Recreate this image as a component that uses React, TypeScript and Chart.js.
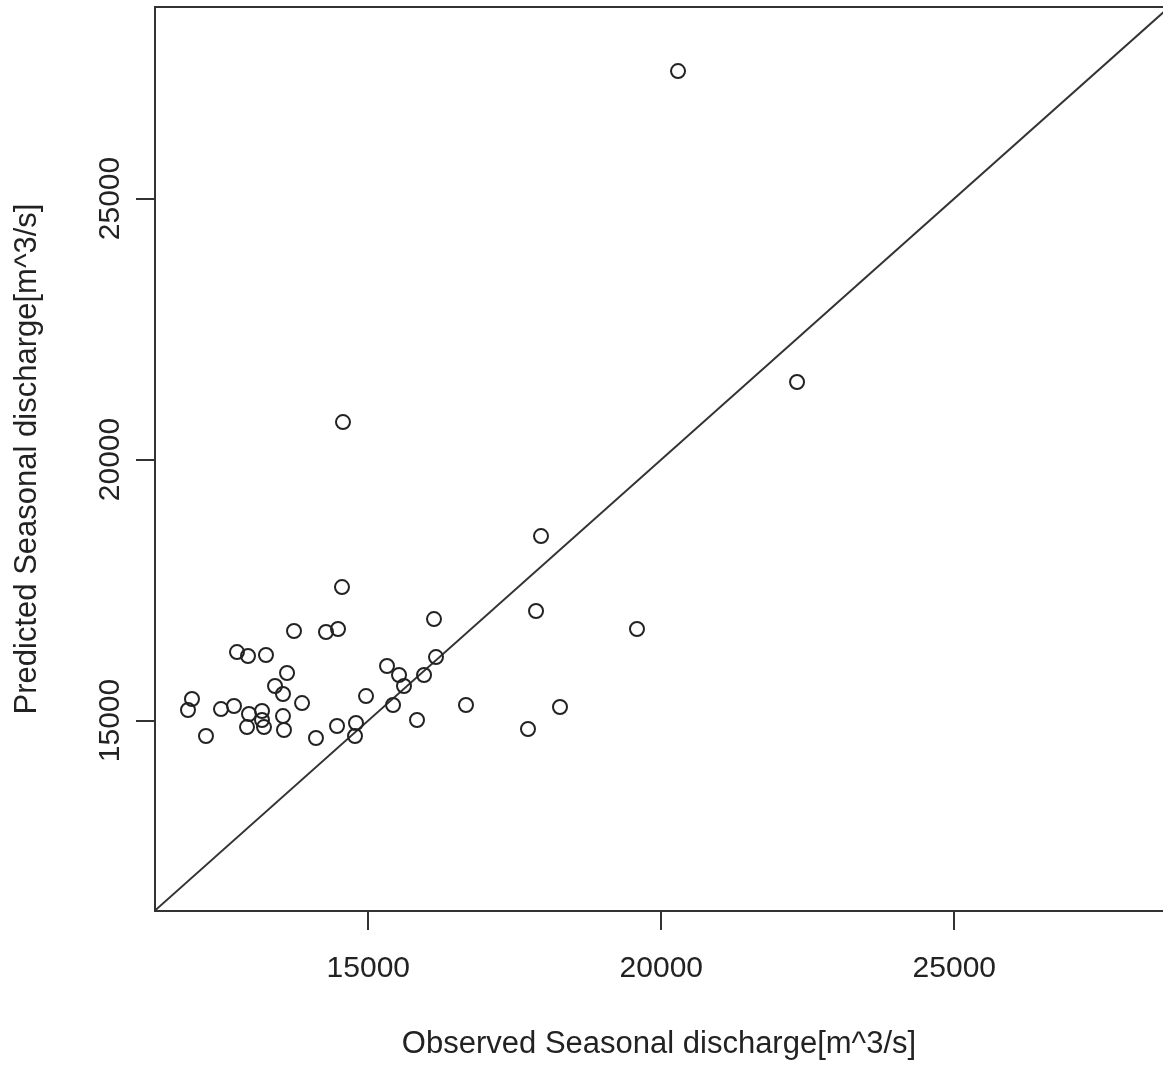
import React, { useEffect, useRef } from "react";
import { Chart, registerables } from "chart.js";

Chart.register(...registerables);

// Observed seasonal discharge (x) and predicted seasonal discharge (y), m^3/s
const observed = [
  20285, 22316, 14568, 17947, 14551, 17862, 16121, 19585, 13732, 14278,
  14483, 12759, 12947, 13254, 16155, 15319, 13613, 15524, 15951, 13408,
  15609, 13544, 14961, 11991, 11923, 13869, 12486, 12708, 15422, 16667,
  18271, 12964, 13186, 13186, 13544, 15831, 14790, 12930, 13220, 14466,
  13561, 17725, 12230, 14107, 14773,
];
const predicted = [
  27442, 21485, 20718, 18534, 17557, 17098, 16944, 16753, 16715, 16696,
  16753, 16312, 16236, 16255, 16216, 16044, 15910, 15872, 15872, 15661,
  15661, 15508, 15469, 15412, 15201, 15335, 15220, 15278, 15297, 15297,
  15259, 15125, 15182, 15010, 15086, 15010, 14952, 14875, 14875, 14895,
  14818, 14837, 14703, 14665, 14703,
];
// 1:1 reference line
const lineX = [10000, 30000];
const lineY = [10000, 30000];

const xTicks = [15000, 20000, 25000];
const yTicks = [15000, 20000, 25000];
const xLimits = [11360, 28561];
const yLimits = [11351, 28669];
const xTitle = "Observed Seasonal discharge[m^3/s]";
const yTitle = "Predicted Seasonal discharge[m^3/s]";

const FONT = "'Liberation Sans', Arial, Helvetica, sans-serif";
const INK = "#222";
const LINE = "#333";

// top edge of the plot box (the right edge lies outside the picture)
const boxPlugin = {
  id: "plotBox",
  afterDatasetsDraw(chart: any) {
    const { ctx, chartArea } = chart;
    const { left, top, right } = chartArea;
    ctx.save();
    ctx.strokeStyle = LINE;
    ctx.lineWidth = 2;
    ctx.beginPath();
    ctx.moveTo(left, top);
    ctx.lineTo(right + 5, top);
    ctx.stroke();
    ctx.restore();
  },
};

export default function App() {
  const ref = useRef<HTMLCanvasElement | null>(null);

  useEffect(() => {
    document.body.style.margin = "0";
    const canvas = ref.current;
    if (!canvas) return;

    const chart = new Chart(canvas, {
      type: "scatter",
      data: {
        datasets: [
          {
            label: "points",
            data: observed.map((x, i) => ({ x, y: predicted[i] })),
            pointRadius: 7,
            pointHoverRadius: 7,
            pointBorderWidth: 2,
            pointBorderColor: INK,
            pointBackgroundColor: "rgba(0,0,0,0)",
            showLine: false,
          },
          {
            label: "1:1",
            data: lineX.map((x, i) => ({ x, y: lineY[i] })),
            showLine: true,
            pointRadius: 0,
            borderColor: LINE,
            borderWidth: 1.9,
            fill: false,
          },
        ],
      },
      options: {
        animation: false,
        responsive: false,
        maintainAspectRatio: false,
        devicePixelRatio: 1,
        layout: { autoPadding: false, padding: { top: 7, right: 0, left: 0, bottom: 0 } },
        plugins: {
          legend: { display: false },
          tooltip: { enabled: false },
        },
        scales: {
          x: {
            type: "linear",
            min: xLimits[0],
            max: xLimits[1],
            afterBuildTicks: (s: any) => {
              s.ticks = xTicks.map((v) => ({ value: v }));
            },
            afterFit: (s: any) => {
              s.height = 157;
            },
            grid: {
              drawOnChartArea: false,
              drawTicks: true,
              tickLength: 19,
              color: LINE,
              lineWidth: 2,
            },
            border: { display: true, color: LINE, width: 2 },
            ticks: {
              font: { family: FONT, size: 30 },
              color: INK,
              padding: 21,
              maxRotation: 0,
              autoSkip: false,
              callback: (v: any) => String(v),
            },
            title: {
              display: true,
              text: xTitle,
              font: { family: FONT, size: 31 },
              color: INK,
              padding: { top: 0, bottom: 5 },
            },
          },
          y: {
            type: "linear",
            min: yLimits[0],
            max: yLimits[1],
            afterBuildTicks: (s: any) => {
              s.ticks = yTicks.map((v) => ({ value: v }));
            },
            afterFit: (s: any) => {
              s.width = 155;
            },
            grid: {
              drawOnChartArea: false,
              drawTicks: true,
              tickLength: 19,
              color: LINE,
              lineWidth: 2,
            },
            border: { display: true, color: LINE, width: 2 },
            ticks: {
              font: { family: FONT, size: 30 },
              color: INK,
              padding: -16,
              minRotation: 90,
              maxRotation: 90,
              crossAlign: "center",
              autoSkip: false,
              callback: (v: any) => String(v),
            },
            title: {
              display: true,
              text: yTitle,
              font: { family: FONT, size: 31 },
              color: INK,
              padding: { top: 9, bottom: 0 },
            },
          },
        },
      },
      plugins: [boxPlugin],
    } as any);

    return () => chart.destroy();
  }, []);

  return (
    <div style={{ width: 1163, height: 1068, overflow: "hidden", background: "#fff" }}>
      <canvas ref={ref} width={1163} height={1068} style={{ display: "block", width: 1163, height: 1068 }} />
    </div>
  );
}
